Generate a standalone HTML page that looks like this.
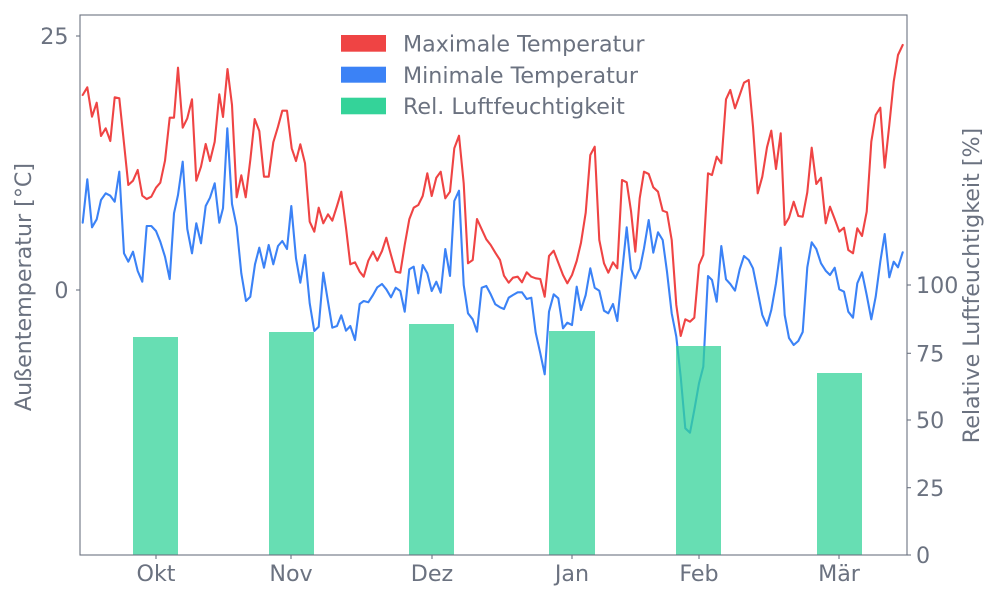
<!DOCTYPE html>
<html><head><meta charset="utf-8"><style>
html,body{margin:0;padding:0;background:#fff;}
svg{display:block;font-family:"DejaVu Sans","Liberation Sans",sans-serif;}
</style></head><body>
<svg width="1000" height="600" viewBox="0 0 1000 600" xmlns="http://www.w3.org/2000/svg">
<rect width="1000" height="600" fill="#fff"/>
<g fill="none" stroke-width="2.1" stroke-linejoin="round" stroke-linecap="round">
<polyline stroke="#ef4444" points="82.7,95 87.3,87.3 92,116.7 96.7,102.7 101,136 105.7,128.3 110.3,141 114.7,97.3 119.3,98.3 124,143.3 128.3,185 133,180.7 137.7,170 142.3,195.7 146.7,199 151.3,196.7 156,187.7 160.3,182.7 165,160.7 169.7,117.7 174,117.7 178,67.7 182.7,127.7 187.3,118.3 192,99.3 196.3,180.7 201,166.7 205.7,144 210,161 214.7,141.7 219.3,94.3 223,117 227.5,69 232,105 236.7,197.3 241.3,175.3 245.7,197.3 250.3,160 254.7,119 259.3,131 264,176.7 268.7,176.7 273.3,142.3 278,126.7 282.3,110.7 287,110.7 291.7,148.3 296,161 300.3,144.3 305,163.3 309.7,221.7 314.3,231.7 318.7,207.7 323.3,223.3 328,214.3 332.3,220.7 337,206 341.3,191.7 346,227.7 350.3,264.3 355,262.3 359.7,271.7 363.7,276.7 368.3,260.7 373,251.7 377.3,260.7 382,251 386.3,237.7 391,255 395.7,271.7 400.3,272.7 404.7,245 409.3,219.3 413.7,207.7 418.3,205 422.7,196 427.3,173.3 431.7,196 436.3,177.7 440.7,171.7 445.3,198.3 450,191.7 454.3,148.3 459,135.7 463.7,183.3 468,263.3 472.7,260 477,219 481.7,229.3 486.3,239.3 490.7,245 495.3,252.7 500,260 504,275.7 508.7,282.7 513,277.7 517.7,276.7 522,282.3 526.7,272.3 531.3,276.7 535.7,278.3 540.3,279 544.7,296.7 549,256 553.7,250.7 558.3,262.7 563,275 567.3,283.3 572,275 576.7,261 581,242.7 585.7,212.7 590.3,155 594.7,146.7 599.3,240 604,263.3 608.3,272.7 613,262.3 617.3,268.3 622,180 626.7,182.3 631,211 635.3,251.7 639.7,198.3 644,171.7 648.7,174 653.3,187.3 658,191.7 662.7,210.7 667,212.3 671.7,240 676.3,305 680.7,336 685.3,319.3 690,321.7 694.3,317.7 699,265 703.3,255 708,173.3 712,175 716.7,156.7 721.3,163.3 726,99.3 730.3,90 735,108.3 739.7,95 744,82.7 748.7,80 753,126.7 757.7,193.3 762.3,176.7 767,147.3 771.3,130.7 776,169 780.7,133.3 784.7,225 789,217.7 793.7,201.7 798.3,216 802.7,216.7 807.3,192.3 811.7,147.7 816.3,184 821,177.7 825.7,223.3 830,206.7 834.7,219 839.3,231.7 844,227.7 848.3,250 853,253.3 857.3,228.3 862,236 866.7,211.7 871.3,141.7 875.7,115 880.3,107.7 884.7,167.7 889.3,125 893.7,81.7 898,55 902.7,45"/>
<polyline stroke="#3b82f6" points="82.7,222.7 87.3,179.3 92,227.3 96.7,219.3 101,200 105.7,193.3 110.3,195.7 114.7,201.7 119.3,171.7 124,253.3 128.3,261.7 133,251.7 137.7,271 142.3,281.7 146.7,226 151.3,226 156,231 160.3,241.7 165,256.7 169.7,279 174,213.3 178,195 182.7,161.7 187.3,229 192,253.3 196.3,223.3 201,243.3 205.7,206 210,197.7 214.7,183.3 219.3,222.7 223,208.3 227.3,128.3 232,204 236.7,226.7 241.3,273.3 246,301 250.3,296.7 255,264.3 259.3,247.7 264,267.7 268.7,245 273.3,264.3 278,246 282.3,241 287,249 291.3,206 296,258.3 300.3,282.7 305,255 309.7,303.3 314.3,331 318.7,326.7 323.3,272.7 328,301.7 332.3,327.7 337,326 341.3,315.3 346,330.7 350.3,326 355,340 359.7,304 363.7,301 368.3,302.3 373,295 377.3,287.3 382,284 386.3,289.3 391,297.3 395.7,287.7 400.3,291 404.7,311.7 409.3,269.3 413.7,266.7 418.3,293.3 422.7,265 427.3,273.3 431.7,291 436.3,281.7 440.7,292.7 445.3,249 450,276 454.3,201 459,190.7 463.7,285 468,313.3 472.7,319.3 477,331.7 481.7,287.7 486.3,286 490.7,294.3 495.3,304.3 500,307.3 504,309 508.7,297.7 513,295 517.7,292.3 522,292.3 526.7,299 531.3,297.7 535.7,332.7 540.3,353.3 544.7,374.3 549,311.7 553.7,294.3 558.3,298.3 563,328.3 567.3,322.7 572,325 576.7,286.7 581,310 585.7,295 590.3,268.3 594.7,287.7 599.3,290.7 604,310.7 608.3,313.3 613,304 617.3,321 622,273.3 626.7,227.3 631,269.3 635.3,278.3 640,268.3 644,248.3 648.7,220 653.3,252.7 658,232.3 662.7,240 667,271.7 671.7,313.3 676.3,336.7 680.7,376.7 685.3,428.3 690,432.7 694.3,410 699,383.3 703.3,366.7 708,276 712,280 716.7,301.7 721.3,246 726,279.3 730.3,284 735,290.7 739.7,269.3 744,256 748.7,260 753,268.3 757.7,291.7 762.3,315 767,325.7 771.3,310 776,283.3 780.7,247.7 784.7,315 789,338 793.7,345 798.3,341 802.7,332 807.3,267.3 811.7,242.3 816.3,249 821,263.3 825.7,270.7 830,275 834.7,267.7 839.3,289.3 844,291.7 848.3,311.7 853,317.7 857.3,283.3 862,272.3 866.7,295 871.3,319.3 875.7,296.7 880.3,261.7 884.7,234 889.3,277.3 893.7,261.7 898,267.3 902.7,252.3"/>
</g>
<g fill="#34d399" fill-opacity="0.75">
<rect x="133" y="337" width="45" height="218"/>
<rect x="269" y="332" width="45" height="223"/>
<rect x="409" y="324" width="45" height="231"/>
<rect x="549" y="331" width="46" height="224"/>
<rect x="676" y="346" width="45" height="209"/>
<rect x="817" y="373" width="45" height="182"/>
</g>
<g stroke="#6b7280" stroke-width="1.1" fill="none">
<rect x="80" y="15" width="827" height="540"/>
<line x1="76" y1="36" x2="80" y2="36"/>
<line x1="76" y1="290" x2="80" y2="290"/>
<line x1="907" y1="285" x2="911" y2="285"/>
<line x1="907" y1="353.3" x2="911" y2="353.3"/>
<line x1="907" y1="420" x2="911" y2="420"/>
<line x1="907" y1="487.7" x2="911" y2="487.7"/>
<line x1="907" y1="555" x2="911" y2="555"/>
<line x1="156" y1="555" x2="156" y2="559"/>
<line x1="291" y1="555" x2="291" y2="559"/>
<line x1="432" y1="555" x2="432" y2="559"/>
<line x1="572" y1="555" x2="572" y2="559"/>
<line x1="699" y1="555" x2="699" y2="559"/>
<line x1="839" y1="555" x2="839" y2="559"/>
</g>
<g fill="#6b7280" font-size="22.2">
<text x="68.5" y="44" text-anchor="end">25</text>
<text x="68.5" y="298" text-anchor="end">0</text>
<text x="916" y="293">100</text>
<text x="916" y="361.4">75</text>
<text x="916" y="428">50</text>
<text x="916" y="495.8">25</text>
<text x="916" y="563">0</text>
<text x="156" y="581" text-anchor="middle">Okt</text>
<text x="291" y="581" text-anchor="middle">Nov</text>
<text x="432" y="581" text-anchor="middle">Dez</text>
<text x="572" y="581" text-anchor="middle">Jan</text>
<text x="699" y="581" text-anchor="middle">Feb</text>
<text x="839" y="581" text-anchor="middle">Mär</text>
<text transform="translate(31,287) rotate(-90)" text-anchor="middle">Außentemperatur [°C]</text>
<text transform="translate(979,285.5) rotate(-90)" text-anchor="middle">Relative Luftfeuchtigkeit [%]</text>
</g>
<g>
<rect x="341" y="35" width="45" height="16.7" fill="#ef4444"/>
<rect x="341" y="66.7" width="45" height="16" fill="#3b82f6"/>
<rect x="341" y="97.7" width="45" height="16.6" fill="#34d399"/>
<g fill="#6b7280" font-size="22.2">
<text x="403" y="51.5">Maximale Temperatur</text>
<text x="403" y="82.8">Minimale Temperatur</text>
<text x="403" y="114">Rel. Luftfeuchtigkeit</text>
</g>
</g>
</svg>
</body></html>
